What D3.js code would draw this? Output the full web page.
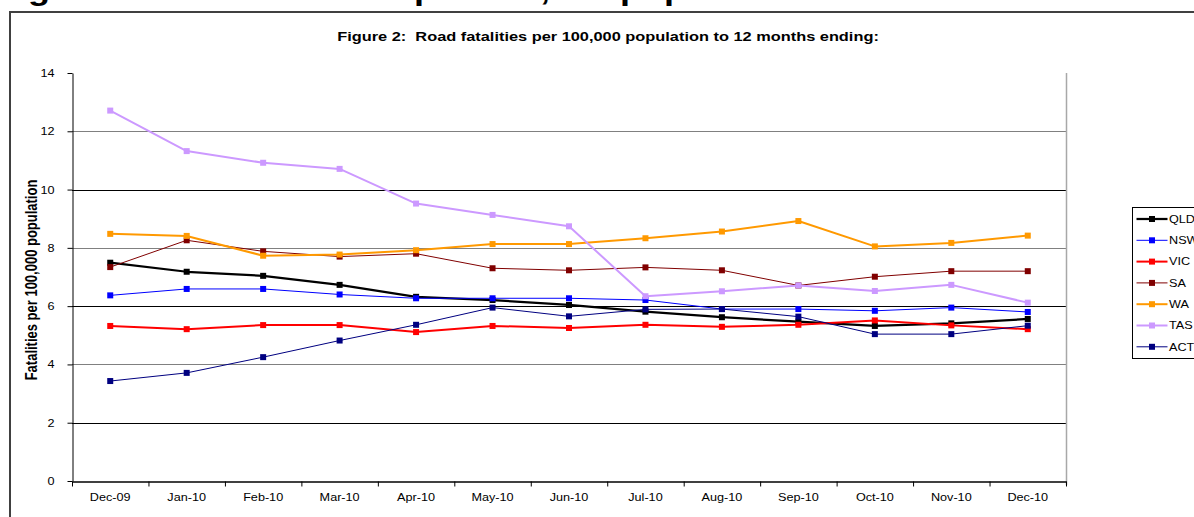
<!DOCTYPE html>
<html>
<head>
<meta charset="utf-8">
<script src="https://cdn.jsdelivr.net/npm/d3@7"></script>
<style>
  body { margin: 0; background: #fff; overflow: hidden; }
  svg { display: block; font-family: "Liberation Sans", Arial, sans-serif; }
  svg text { font-family: "Liberation Sans", Arial, sans-serif; }
</style>
</head>
<body>
<svg id="mySVG"></svg>
<script>
// Values
var months = ["Dec-09", "Jan-10", "Feb-10", "Mar-10", "Apr-10", "May-10", "Jun-10",
              "Jul-10", "Aug-10", "Sep-10", "Oct-10", "Nov-10", "Dec-10"];
var qld = [7.49, 7.18, 7.04, 6.73, 6.32, 6.21, 6.04, 5.81, 5.62, 5.47, 5.32, 5.41, 5.56];
var nsw = [6.37, 6.59, 6.59, 6.40, 6.27, 6.27, 6.27, 6.21, 5.90, 5.90, 5.84, 5.95, 5.80];
var vic = [5.32, 5.21, 5.35, 5.35, 5.11, 5.32, 5.25, 5.36, 5.29, 5.36, 5.51, 5.34, 5.21];
var sa  = [7.34, 8.26, 7.88, 7.70, 7.80, 7.30, 7.23, 7.33, 7.23, 6.71, 7.01, 7.20, 7.20];
var wa  = [8.48, 8.41, 7.73, 7.77, 7.92, 8.13, 8.13, 8.33, 8.56, 8.92, 8.05, 8.17, 8.42];
var tas = [12.71, 11.32, 10.92, 10.71, 9.52, 9.13, 8.74, 6.34, 6.51, 6.71, 6.52, 6.73, 6.12];
var act = [3.43, 3.71, 4.25, 4.82, 5.36, 5.95, 5.65, 5.89, 5.90, 5.64, 5.04, 5.04, 5.33];
var seriesNames = ["QLD", "NSW", "VIC", "SA", "WA", "TAS", "ACT"];
var yTicks = [0, 2, 4, 6, 8, 10, 12, 14];
var gridTicks = [2, 4, 6, 8, 10, 12];

var headerText = "Figure 2: Road fatalities per 100,000 population";
var chartTitle = "Figure 2:  Road fatalities per 100,000 population to 12 months ending:";
var yTitle = "Fatalities per 100,000 population";

// line styles per state
var styles = {
  QLD: {color: "#000000", width: 2.25},
  NSW: {color: "#0000ff", width: 1},
  VIC: {color: "#ff0000", width: 2},
  SA:  {color: "#800000", width: 1},
  WA:  {color: "#ff9900", width: 2},
  TAS: {color: "#cc99ff", width: 2},
  ACT: {color: "#000080", width: 1}
};
var seriesValues = [qld, nsw, vic, sa, wa, tas, act];
var series = seriesNames.map(function(n, i) { return {name: n, values: seriesValues[i]}; });

var width = 1194, height = 517;
var plot = {left: 72, right: 1066, top: 73, bottom: 481};
var stretch = 1.15;   // the reference text is a little wider than plain Arial

var svg = d3.select("#mySVG")
  .attr("width", width)
  .attr("height", height);

// header line of the page, cut off at the top (only descenders show)
svg.append("text")
  .attr("transform", "translate(-4,0) scale(1.2,1)")
  .style("font-size", "30px")
  .style("font-weight", "bold")
  .text(headerText);

// outer chart frame (only top and left edges are visible)
svg.append("path")
  .attr("d", "M10,530 V12 H1200")
  .style("fill", "none")
  .style("stroke", "#404040")
  .style("stroke-width", 2);

// chart title
svg.append("text")
  .attr("transform", "translate(608,41) scale(1.26,1)")
  .style("text-anchor", "middle")
  .style("font-size", "13px")
  .style("font-weight", "bold")
  .style("white-space", "pre")
  .text(chartTitle);

// scales
var x = d3.scaleBand()
  .domain(months)
  .range([plot.left, plot.right]);
var xEdge = d3.scaleLinear()
  .domain([0, months.length])
  .range([plot.left, plot.right]);
var y = d3.scaleLinear()
  .domain([0, 14])
  .range([plot.bottom, plot.top]);

function cx(i) { return x(months[i]) + x.bandwidth() / 2; }

// gridlines
svg.selectAll(".grid")
  .data(gridTicks).enter()
  .append("line")
  .attr("x1", plot.left)
  .attr("x2", plot.right)
  .attr("y1", function(d) { return Math.round(y(d)) + 0.5; })
  .attr("y2", function(d) { return Math.round(y(d)) + 0.5; })
  .style("stroke", function(d) { return d % 4 == 0 ? "#808080" : "#000000"; })
  .style("stroke-width", 1);

// right edge of the plot area
svg.append("line")
  .attr("x1", plot.right + 0.5).attr("x2", plot.right + 0.5)
  .attr("y1", plot.top).attr("y2", plot.bottom + 4)
  .style("stroke", "#a8a8a8")
  .style("stroke-width", 1.5);

// y axis
svg.append("g")
  .attr("transform", "translate(" + (plot.left + 0.5) + ",0)")
  .call(d3.axisLeft(y).tickValues(yTicks).tickSize(5).tickSizeOuter(0).tickFormat(d3.format("d")))
  .call(function(g) {
    g.attr("font-family", null).attr("font-size", null);
    g.select(".domain").style("stroke", "#000");
    g.selectAll(".tick line").style("stroke", "#000");
    g.selectAll("text")
      .attr("x", -18 / stretch)
      .attr("transform", "scale(" + stretch + ",1)")
      .style("font-size", "11px")
      .style("fill", "#000");
  });

// x axis: ticks on the category edges
svg.append("g")
  .attr("transform", "translate(0," + (plot.bottom + 0.5) + ")")
  .call(d3.axisBottom(xEdge).tickValues(d3.range(months.length + 1)).tickSize(5).tickSizeOuter(0).tickFormat(""))
  .call(function(g) {
    g.select(".domain").style("stroke", "#000").style("stroke-width", 1.3);
    g.selectAll(".tick line").style("stroke", "#000");
  });

// x axis labels, centred in each category
svg.append("g")
  .attr("transform", "translate(0," + (plot.bottom + 0.5) + ")")
  .call(d3.axisBottom(x).tickSize(0).tickPadding(12))
  .call(function(g) {
    g.attr("font-family", null).attr("font-size", null);
    g.select(".domain").remove();
    g.selectAll("text")
      .attr("transform", "scale(" + stretch + ",1)")
      .style("font-size", "11px")
      .style("fill", "#000");
  });

// y axis title
svg.append("text")
  .attr("transform", "translate(37,280) scale(1.2,1) rotate(-90)")
  .style("text-anchor", "middle")
  .style("font-size", "13px")
  .style("font-weight", "bold")
  .text(yTitle);

// lines and markers
var line = d3.line()
  .x(function(d, i) { return cx(i); })
  .y(function(d) { return y(d); });

var groups = svg.selectAll(".series")
  .data(series).enter()
  .append("g");

groups.append("path")
  .attr("d", function(d) { return line(d.values); })
  .style("fill", "none")
  .style("stroke", function(d) { return styles[d.name].color; })
  .style("stroke-width", function(d) { return styles[d.name].width; })
  .style("stroke-linejoin", "round");

groups.each(function(s) {
  d3.select(this).selectAll("rect")
    .data(s.values).enter()
    .append("rect")
    .attr("x", function(d, i) { return cx(i) - 3; })
    .attr("y", function(d) { return y(d) - 3; })
    .attr("width", 6)
    .attr("height", 6)
    .style("fill", styles[s.name].color);
});

// legend
var legend = svg.append("g")
  .attr("transform", "translate(1132.5,207.5)");

legend.append("rect")
  .attr("width", 100)
  .attr("height", 151)
  .style("fill", "#fff")
  .style("stroke", "#000");

var item = legend.selectAll(".item")
  .data(seriesNames).enter()
  .append("g")
  .attr("transform", function(d, i) { return "translate(0," + (11.5 + i * 21.3) + ")"; });

item.append("line")
  .attr("x1", 4).attr("x2", 35)
  .style("stroke", function(d) { return styles[d].color; })
  .style("stroke-width", function(d) { return styles[d].width; });

item.append("rect")
  .attr("x", 16.5).attr("y", -3)
  .attr("width", 6).attr("height", 6)
  .style("fill", function(d) { return styles[d].color; });

item.append("text")
  .attr("transform", "translate(36.5,0) scale(" + stretch + ",1)")
  .attr("dy", "0.35em")
  .style("font-size", "11px")
  .text(function(d) { return d; });
</script>
</body>
</html>
